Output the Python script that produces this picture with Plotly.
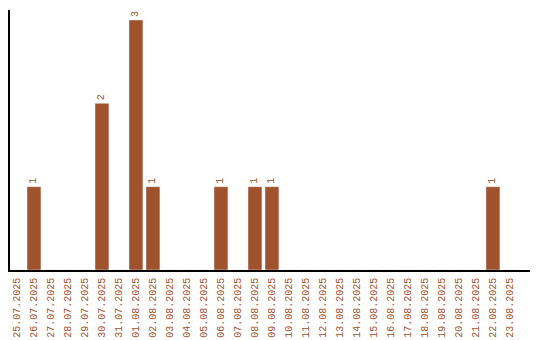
import plotly.graph_objects as go

dates = ["25.07.2025","26.07.2025","27.07.2025","28.07.2025","29.07.2025","30.07.2025",
         "31.07.2025","01.08.2025","02.08.2025","03.08.2025","04.08.2025","05.08.2025",
         "06.08.2025","07.08.2025","08.08.2025","09.08.2025","10.08.2025","11.08.2025",
         "12.08.2025","13.08.2025","14.08.2025","15.08.2025","16.08.2025","17.08.2025",
         "18.08.2025","19.08.2025","20.08.2025","21.08.2025","22.08.2025","23.08.2025"]
counts = [0,1,0,0,0,2,0,3,1,0,0,0,1,0,1,1,0,0,0,0,0,0,0,0,0,0,0,0,1,0]

color = "#a0522d"
labels = [str(c) if c > 0 else "" for c in counts]

fig = go.Figure(go.Bar(
    x=list(range(len(dates))), y=counts, marker_color=color, width=0.82,
    text=labels, textposition="outside", textangle=-90,
    textfont=dict(family="Liberation Mono", size=10, color=color),
    cliponaxis=False,
))
fig.update_layout(
    width=540, height=340, margin=dict(l=10, r=10, t=10, b=70, autoexpand=False),
    plot_bgcolor="white", paper_bgcolor="white", showlegend=False,
    uniformtext=dict(minsize=10, mode="show"),
)
fig.update_xaxes(
    tickmode="array", tickvals=list(range(len(dates))), ticktext=dates,
    tickangle=-90, tickfont=dict(family="Liberation Mono", size=10, color=color),
    range=[-0.41, 30.18], showline=True, linecolor="black", linewidth=1.5,
    showgrid=False, ticks="", automargin=False, ticklabelstandoff=2,
)
fig.update_yaxes(
    range=[0, 3.12], showline=True, linecolor="black", linewidth=1.5,
    showgrid=False, showticklabels=False, ticks="", zeroline=False, automargin=False,
)
fig.write_html("out.html")
